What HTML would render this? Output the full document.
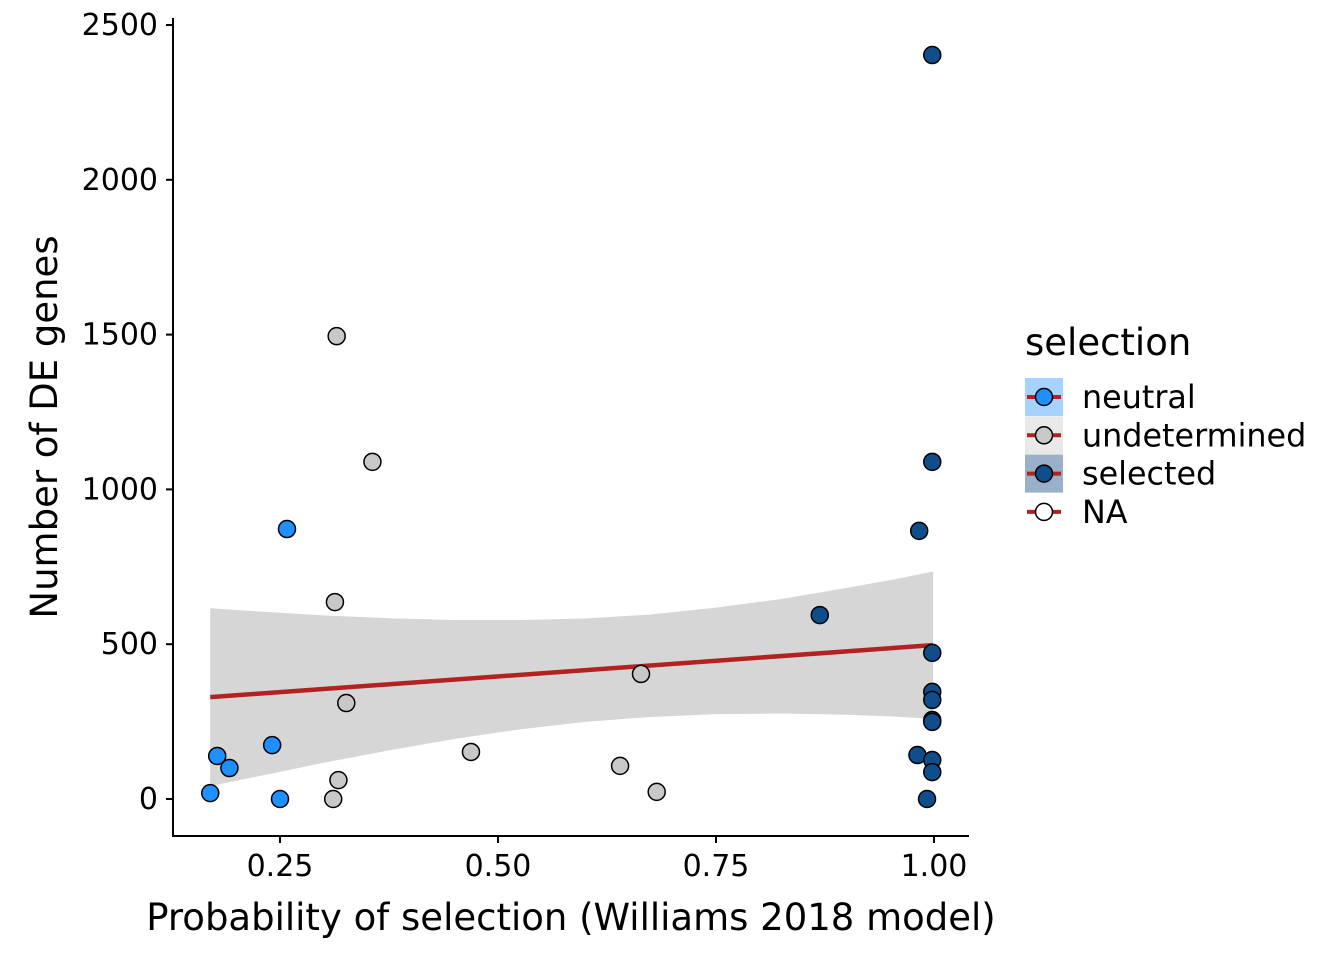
<!DOCTYPE html>
<html><head><meta charset="utf-8"><style>
html,body{margin:0;padding:0;background:#fff;}
svg{display:block;font-family:"DejaVu Sans","Liberation Sans",sans-serif;}
</style></head><body>
<svg id="chart" width="1344" height="960">
<g id="ribbon-layer"></g><g id="line-layer"></g><g id="points-layer"></g><g id="axes-layer"></g>
<g id="legend">
<text x="1025" y="355" font-size="37">selection</text>
</g>
</svg>
<script>
const neutralX=[0.170,0.178,0.192,0.241,0.250,0.258];
const neutralY=[19,139,100,174,0,872];
const undetX=[0.315,0.356,0.313,0.326,0.317,0.311,0.469,0.640,0.664,0.682];
const undetY=[1495,1089,636,310,61,0,152,107,404,23];
const selX=[0.998,0.998,0.983,0.869,0.998,0.998,0.998,0.998,0.998,0.981,0.998,0.998,0.992];
const selY=[2403,1089,866,594,472,346,320,255,249,142,126,87,0];
const fitX=[0.170,0.999];
const fitY=[329,497];
const ribbonX=[0.17,0.24,0.30,0.375,0.45,0.525,0.60,0.675,0.75,0.825,0.90,0.95,0.999];
const ribbonUpper=[616,603,593,584,578,578,583,596,618,646,682,707,735];
const ribbonLower=[42,82,117,157,194,225,249,265,274,276,272,267,259];
const xTicks=[0.25,0.50,0.75,1.00];
const xTickLabels=["0.25","0.50","0.75","1.00"];
const yTicks=[0,500,1000,1500,2000,2500];
const yTickLabels=["0","500","1000","1500","2000","2500"];
const legendLabels=["neutral","undetermined","selected","NA"];
const legendColors=["#1E90FF","#C8C8C8","#104E8B","#FFFFFF"];
const legendBg=["#A5D2FF","#E9E9E9","#9AAFC8",null];

const NS="http://www.w3.org/2000/svg";
const sx=v=>62+v*872;
const sy=v=>799-v*0.3096;
function mk(tag,attrs,parent){const e=document.createElementNS(NS,tag);for(const k in attrs)e.setAttribute(k,attrs[k]);parent.appendChild(e);return e;}
const rib=document.getElementById('ribbon-layer');
let d="M"+ribbonX.map((x,i)=>sx(x)+","+sy(ribbonUpper[i])).join("L");
for(let i=ribbonX.length-1;i>=0;i--)d+="L"+sx(ribbonX[i])+","+sy(ribbonLower[i]);
const rp=mk('path',{d:d+"Z",fill:"#D6D6D6"},rib);


const ln=mk('line',{x1:sx(fitX[0]),y1:sy(fitY[0]),x2:sx(fitX[1]),y2:sy(fitY[1]),stroke:"#B22222","stroke-width":4.5},document.getElementById('line-layer'));


const pl=document.getElementById('points-layer');
function pts(xs,ys,col,name){xs.forEach((x,i)=>{const c=mk('circle',{cx:sx(x),cy:sy(ys[i]),r:8.5,fill:col,stroke:"#000","stroke-width":1.5},pl);

});}
pts(neutralX,neutralY,"#1E90FF","neutral");
pts(undetX,undetY,"#C8C8C8","undetermined");
pts(selX,selY,"#104E8B","selected");
const ax=document.getElementById('axes-layer');
const ya=mk('line',{x1:173,y1:18,x2:173,y2:836,stroke:"#000","stroke-width":2},ax);


const xa=mk('line',{x1:172,y1:836,x2:969,y2:836,stroke:"#000","stroke-width":2},ax);


xTicks.forEach((t,i)=>{mk('line',{x1:sx(t),y1:836,x2:sx(t),y2:843,stroke:"#000","stroke-width":2},ax);
const tx=mk('text',{x:sx(t),y:876,"font-size":30,"text-anchor":"middle"},ax);tx.textContent=xTickLabels[i];

});
yTicks.forEach((t,i)=>{mk('line',{x1:166,y1:sy(t),x2:173,y2:sy(t),stroke:"#000","stroke-width":2},ax);
const tx=mk('text',{x:158,y:sy(t)+10,"font-size":30,"text-anchor":"end"},ax);tx.textContent=yTickLabels[i];

});
const xt=mk('text',{x:571,y:930,"font-size":37,"text-anchor":"middle"},ax);xt.textContent="Probability of selection (Williams 2018 model)";


const yt=mk('text',{x:0,y:0,"font-size":37,"text-anchor":"middle",transform:"translate(57,427) rotate(-90)"},ax);yt.textContent="Number of DE genes";


const lg=document.getElementById('legend');
legendLabels.forEach((l,i)=>{const y=397+i*38.3;
if(legendBg[i])mk('rect',{x:1025,y:y-19,width:38,height:38,fill:legendBg[i]},lg);
mk('line',{x1:1027,y1:y,x2:1061,y2:y,stroke:"#B22222","stroke-width":4},lg);
const c=mk('circle',{cx:1044,cy:y,r:8.5,fill:legendColors[i],stroke:"#000","stroke-width":1.5},lg);


const t=mk('text',{x:1082,y:y+11,"font-size":31.8},lg);t.textContent=l;

});
</script>
</body></html>
